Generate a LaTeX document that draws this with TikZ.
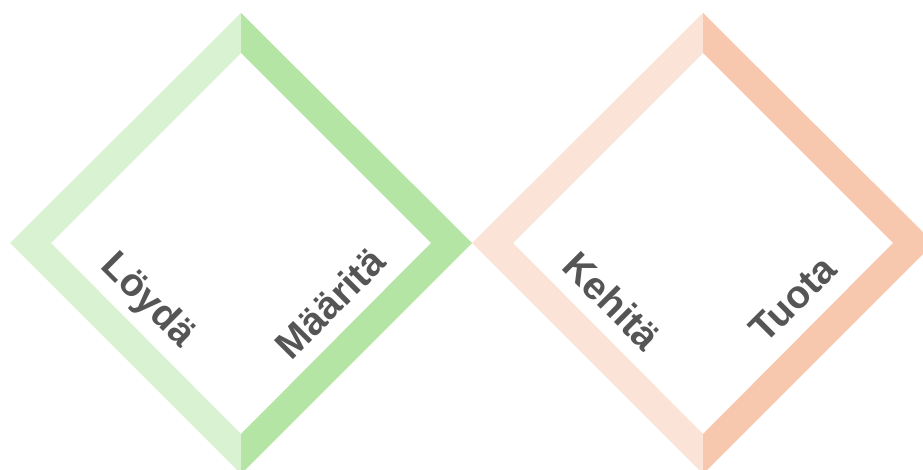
\documentclass[tikz,border=0pt]{standalone}
\usepackage{fontspec}
\setmainfont{Liberation Sans}
\definecolor{gLight}{HTML}{D9F2D2}
\definecolor{gDark}{HTML}{B5E5A5}
\definecolor{oLight}{HTML}{FBE3D7}
\definecolor{oDark}{HTML}{F7C8AE}
\definecolor{txt}{HTML}{555555}
\tikzset{
  lbl/.style={font=\fontsize{39}{39}\selectfont\bfseries, text=txt, inner sep=0pt, anchor=center},
}
\begin{document}
\begin{tikzpicture}[x=1pt,y=-1pt]
\useasboundingbox (0,0) rectangle (923,470);
\clip (0,0) rectangle (923,470);
% left diamond (green)
\fill[gLight] (241,13) -- (10,243) -- (241,474) -- (241,434) -- (51,243) -- (241,53) -- cycle;
\fill[gDark] (241,13) -- (472,243) -- (241,474) -- (241,434) -- (431,243) -- (241,53) -- cycle;
% right diamond (orange)
\fill[oLight] (703,13) -- (472,243) -- (703,474) -- (703,434) -- (513,243) -- (703,53) -- cycle;
\fill[oDark] (703,13) -- (934,243) -- (703,474) -- (703,434) -- (893,243) -- (703,53) -- cycle;
% labels
\node[lbl, rotate=-45] (loyda) at (147,301) {Löydä};
\node[lbl, rotate=45] (maarita) at (330,303) {Määritä};
\node[lbl, rotate=-45] (kehita) at (612,301) {Kehitä};
\node[lbl, rotate=45] (tuota) at (793,299) {Tuota};
\end{tikzpicture}
\end{document}
